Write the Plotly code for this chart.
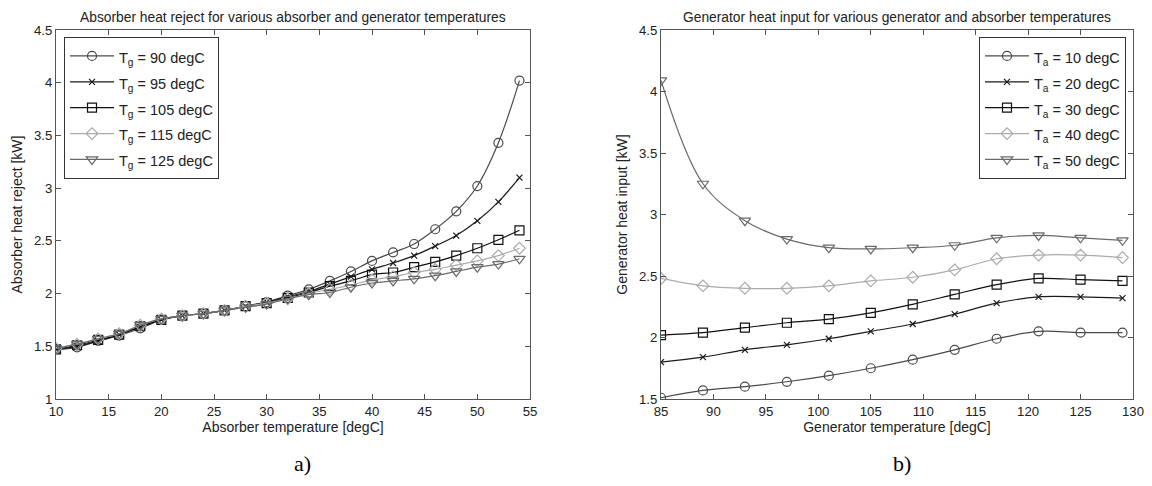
import plotly.graph_objects as go

# ---- Data: left panel (absorber heat reject) ----
absorber_temp = [10, 12, 14, 16, 18, 20, 22, 24, 26, 28, 30, 32, 34, 36, 38, 40, 42, 44, 46, 48, 50, 52, 54]
reject_tg90 = [1.47, 1.49, 1.55, 1.60, 1.67, 1.75, 1.79, 1.81, 1.84, 1.88, 1.92, 1.98, 2.04, 2.12, 2.21, 2.31, 2.39, 2.47, 2.61, 2.78, 3.02, 3.43, 4.02]
reject_tg95 = [1.47, 1.50, 1.55, 1.61, 1.68, 1.75, 1.79, 1.81, 1.84, 1.88, 1.92, 1.97, 2.02, 2.09, 2.16, 2.23, 2.29, 2.36, 2.45, 2.55, 2.69, 2.87, 3.10]
reject_tg105 = [1.47, 1.51, 1.56, 1.61, 1.69, 1.75, 1.79, 1.81, 1.84, 1.88, 1.91, 1.96, 2.01, 2.07, 2.12, 2.18, 2.20, 2.25, 2.30, 2.36, 2.43, 2.51, 2.60]
reject_tg115 = [1.48, 1.52, 1.57, 1.62, 1.70, 1.76, 1.79, 1.81, 1.84, 1.88, 1.91, 1.95, 2.00, 2.04, 2.08, 2.13, 2.16, 2.20, 2.23, 2.27, 2.31, 2.36, 2.43]
reject_tg125 = [1.48, 1.52, 1.57, 1.62, 1.70, 1.76, 1.79, 1.81, 1.84, 1.87, 1.90, 1.95, 1.99, 2.01, 2.06, 2.10, 2.12, 2.14, 2.17, 2.21, 2.25, 2.28, 2.33]
left_labels = ["T<sub>g</sub> = 90 degC", "T<sub>g</sub> = 95 degC", "T<sub>g</sub> = 105 degC",
               "T<sub>g</sub> = 115 degC", "T<sub>g</sub> = 125 degC"]

# ---- Data: right panel (generator heat input) ----
generator_temp = [85, 89, 93, 97, 101, 105, 109, 113, 117, 121, 125, 129]
input_ta10 = [1.51, 1.57, 1.60, 1.64, 1.69, 1.75, 1.82, 1.90, 1.99, 2.05, 2.04, 2.04]
input_ta20 = [1.80, 1.84, 1.90, 1.94, 1.99, 2.05, 2.11, 2.19, 2.28, 2.33, 2.33, 2.32]
input_ta30 = [2.02, 2.04, 2.08, 2.12, 2.15, 2.20, 2.27, 2.35, 2.43, 2.48, 2.47, 2.46]
input_ta40 = [2.48, 2.42, 2.40, 2.40, 2.42, 2.46, 2.49, 2.55, 2.64, 2.67, 2.67, 2.65]
input_ta50 = [4.09, 3.25, 2.95, 2.80, 2.73, 2.72, 2.73, 2.75, 2.81, 2.83, 2.81, 2.79]
right_labels = ["T<sub>a</sub> = 10 degC", "T<sub>a</sub> = 20 degC", "T<sub>a</sub> = 30 degC",
                "T<sub>a</sub> = 40 degC", "T<sub>a</sub> = 50 degC"]

colors = ["#4a4a4a", "#1a1a1a", "#111111", "#ababab", "#6a6a6a"]
symbols = ["circle-open", "x-thin-open", "square-open", "diamond-open", "triangle-down-open"]
sizes = [9, 6, 9, 9, 10]

# page is rendered inside a body with an 8px margin
OFF = 8
W, H = 1152 - 2 * OFF, 486 - 2 * OFF


def px_x(p):
    return (p - OFF) / W


def px_y(p):
    return 1 - (p - OFF) / H


fig = go.Figure()
left_series = [reject_tg90, reject_tg95, reject_tg105, reject_tg115, reject_tg125]
right_series = [input_ta10, input_ta20, input_ta30, input_ta40, input_ta50]


def legend_name(s):
    return "<span style='font-size:14.5px'>" + s + "</span>"


for i, ys in enumerate(left_series):
    fig.add_trace(go.Scatter(
        x=absorber_temp, y=ys, name=legend_name(left_labels[i]), mode="lines+markers",
        line=dict(color=colors[i], width=1.2, shape="spline"),
        marker=dict(symbol=symbols[i], size=sizes[i], color=colors[i], line=dict(width=1.2, color=colors[i])),
        xaxis="x", yaxis="y", legend="legend"))

for i, ys in enumerate(right_series):
    fig.add_trace(go.Scatter(
        x=generator_temp, y=ys, name=legend_name(right_labels[i]), mode="lines+markers",
        line=dict(color=colors[i], width=1.2, shape="spline"),
        marker=dict(symbol=symbols[i], size=sizes[i], color=colors[i], line=dict(width=1.2, color=colors[i])),
        xaxis="x2", yaxis="y2", legend="legend2"))

ydom = [px_y(399), px_y(30)]
axis_common = dict(showline=True, linecolor="#555555", linewidth=1, mirror="ticks",
                   ticks="inside", ticklen=5, tickcolor="#555555", showgrid=False, zeroline=False,
                   automargin=False, ticklabeloverflow="allow",
                   tickfont=dict(family="Liberation Sans", size=13.2, color="#222222"))
title_font = dict(family="Liberation Sans", size=14, color="#222222")
legend_font = dict(family="Liberation Sans", size=17.6, color="#222222")

RX0, RX1 = 661, 1133

fig.update_layout(
    width=W, height=H, margin=dict(l=0, r=0, t=0, b=0, autoexpand=False),
    plot_bgcolor="white", paper_bgcolor="white",
    font=dict(family="Liberation Sans", color="#222222"),
    xaxis=dict(domain=[px_x(56), px_x(530)], range=[10, 55], dtick=5, anchor="y",
               title=dict(text="Absorber temperature [degC]", font=title_font, standoff=4), **axis_common),
    yaxis=dict(domain=ydom, range=[1, 4.5], dtick=0.5, anchor="x",
               title=dict(text="Absorber heat reject [kW]", font=title_font, standoff=8), **axis_common),
    xaxis2=dict(domain=[px_x(RX0), px_x(RX1)], range=[85, 130], dtick=5, anchor="y2",
                title=dict(text="Generator temperature [degC]", font=title_font, standoff=4), **axis_common),
    yaxis2=dict(domain=ydom, range=[1.5, 4.5], dtick=0.5, anchor="x2",
                title=dict(text="Generator heat input [kW]", font=title_font, standoff=8), **axis_common),
    legend=dict(x=px_x(64), y=px_y(37), xanchor="left", yanchor="top",
                bordercolor="#333333", borderwidth=1, bgcolor="white", itemwidth=44,
                font=legend_font, tracegroupgap=0),
    legend2=dict(x=px_x(RX1 - 7), y=px_y(37), xanchor="right", yanchor="top",
                 bordercolor="#333333", borderwidth=1, bgcolor="white", itemwidth=44,
                 font=legend_font, tracegroupgap=0),
    showlegend=True,
    annotations=[
        dict(text="Absorber heat reject for various absorber and generator temperatures",
             x=px_x((56 + 530) / 2), y=1, xref="paper", yref="paper", showarrow=False,
             xanchor="center", yanchor="top", font=dict(family="Liberation Sans", size=13.8, color="#222222")),
        dict(text="Generator heat input for various generator and absorber temperatures",
             x=px_x((RX0 + RX1) / 2), y=1, xref="paper", yref="paper", showarrow=False,
             xanchor="center", yanchor="top", font=dict(family="Liberation Sans", size=13.8, color="#222222")),
        dict(text="a)", x=px_x(302), y=0, xref="paper", yref="paper", showarrow=False,
             xanchor="center", yanchor="bottom", font=dict(family="Liberation Serif", size=22, color="black")),
        dict(text="b)", x=px_x(902), y=0, xref="paper", yref="paper", showarrow=False,
             xanchor="center", yanchor="bottom", font=dict(family="Liberation Serif", size=22, color="black")),
    ],
)

fig.write_html("out.html")
